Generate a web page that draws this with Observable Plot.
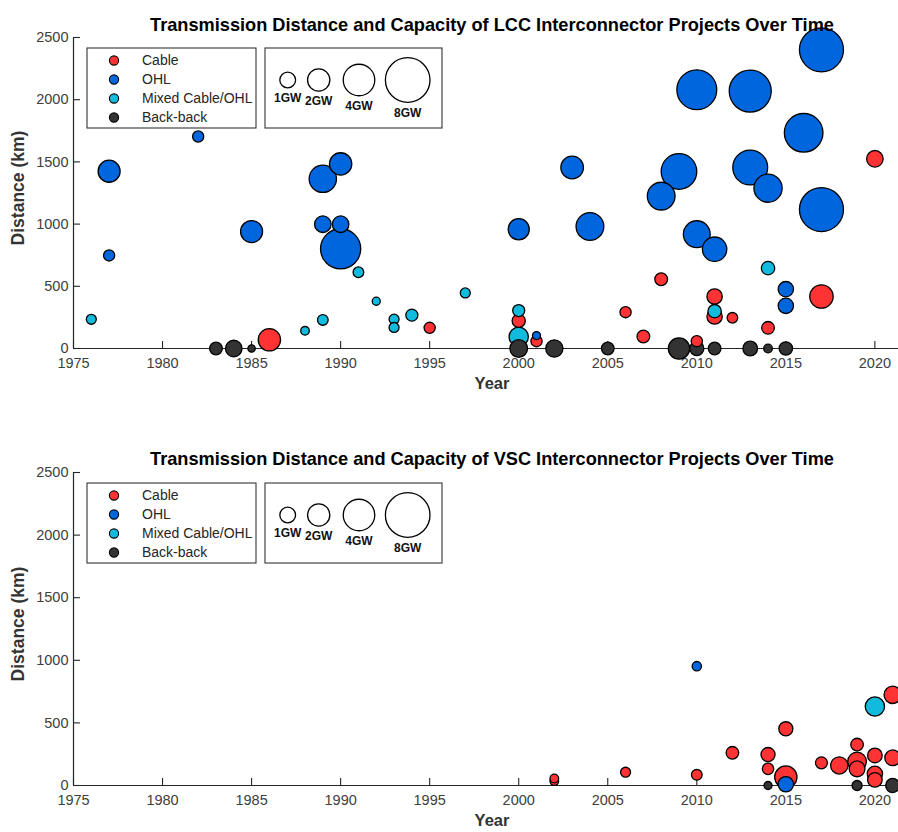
<!DOCTYPE html>
<html><head><meta charset="utf-8">
<script src="https://cdn.jsdelivr.net/npm/d3@7"></script>
<script src="https://cdn.jsdelivr.net/npm/@observablehq/plot@0.6"></script>
<style>
html,body{margin:0;padding:0;background:#fff;overflow:hidden;}
#wrap{position:relative;width:898px;height:832px;overflow:hidden;background:#fff;}
#wrap svg{max-width:none !important;}
.panel{position:absolute;left:0;}
</style></head>
<body><div id="wrap"><div id="p1" class="panel" style="top:0"></div><div id="p2" class="panel" style="top:436px"></div></div>
<script>
// ---- categories, colours, ticks ----
const typeCodes = ["C", "O", "M", "B"];
const typeNames = ["Cable", "OHL", "Mixed Cable/OHL", "Back-back"];
const typeColors = ["#ff3333", "#0066dd", "#11bbdd", "#333333"];
const yearTicks = [1975, 1980, 1985, 1990, 1995, 2000, 2005, 2010, 2015, 2020];
const distTicks = [0, 500, 1000, 1500, 2000, 2500];
const sizeLegendGW = [1, 2, 4, 8];
const sizeLegendLabels = ["1GW", "2GW", "4GW", "8GW"];
const sizeLegendX = [287.7, 318.7, 359, 407.7];

// ---- LCC projects (type, year, distance km, capacity GW) ----
const lccType = ["C","C","C","C","C","C","C","C","C","C","C","C","C","C",
  "O","O","O","O","O","O","O","O","O","O","O","O","O","O","O","O","O","O","O","O","O","O","O","O","O","O",
  "M","M","M","M","M","M","M","M","M","M","M","M","M",
  "B","B","B","B","B","B","B","B","B","B","B","B"];
const lccYear = [1986,1995,2000,2001,2006,2007,2008,2010,2011,2011,2012,2014,2017,2020,
  1977,1977,1982,1985,1989,1989,1990,1990,1990,2000,2001,2003,2004,2008,2009,2010,2010,2011,2013,2014,2013,2015,2015,2016,2017,2017,
  1976,1988,1989,1991,1992,1993,1993,1994,1997,2000,2000,2011,2014,
  1983,1984,1985,2000,2002,2005,2009,2010,2011,2013,2014,2015];
const lccDist = [70,166,223,59,292,96,557,59,418,257,247,166,418,1525,
  748,1425,1704,940,1364,999,1484,999,801,959,104,1455,981,1225,1423,2080,919,798,2069,1289,1455,477,343,1734,2401,1117,
  235,142,230,613,380,236,169,268,447,305,94,300,646,
  0,0,0,0,0,0,0,0,0,0,0,0];
const lccGW = [2.0,0.5,0.7,0.5,0.5,0.65,0.65,0.5,0.95,0.95,0.45,0.65,2.2,1.1,
  0.5,1.95,0.5,1.95,3.0,1.1,2.0,1.1,6.5,1.8,0.26,2.05,3.1,3.1,5.1,6.4,2.9,2.4,7.1,3.2,4.9,0.95,0.95,6.0,7.8,7.8,
  0.4,0.3,0.46,0.46,0.26,0.4,0.4,0.58,0.4,0.58,1.5,0.72,0.72,
  0.64,1.1,0.22,1.25,1.2,0.64,1.83,0.8,0.64,0.86,0.3,0.72];

// ---- VSC projects ----
const vscType = ["C","C","C","C","C","C","C","C","C","C","C","C","C","C","C","C","C","C","C",
  "O","O","M","B","B","B"];
const vscYear = [2002,2002,2006,2010,2012,2014,2014,2015,2015,2017,2018,2019,2019,2019,2020,2020,2020,2021,2021,
  2010,2015,2020,2014,2019,2021];
const vscDist = [35,56,106,85,261,247,133,453,67,181,160,327,133,192,240,45,93,724,221,
  953,10,631,0,0,0];
const vscGW = [0.3,0.3,0.4,0.46,0.64,0.8,0.52,0.8,2.0,0.58,1.2,0.64,1.0,1.4,0.86,0.86,0.95,1.2,1.0,
  0.35,0.95,1.5,0.26,0.4,0.8];

const rows = (t, y, d, g) => t.map((c, i) => ({type: typeNames[typeCodes.indexOf(c)], year: y[i], dist: d[i], gw: g[i]}));

const FONT = "'Liberation Sans', Arial, Helvetica, sans-serif";

function panel(el, title, data, H, mTop, mBottom, titleDy) {
  const W = 910, mL = 73, mR = 0;
  const fh = H - mTop - mBottom, fw = W - mL - mR;
  const rDomain = [0, 8], rRange = [0, 22.3];
  const svg = Plot.plot({
    width: W, height: H,
    marginLeft: mL, marginRight: mR, marginTop: mTop, marginBottom: mBottom,
    style: {fontFamily: FONT, fontSize: "14.5px", color: "#404040", background: "white", overflow: "visible"},
    x: {domain: [1975, 2022], axis: null},
    y: {domain: [0, 2500], axis: null},
    r: {type: "sqrt", domain: rDomain, range: rRange},
    color: {domain: typeNames, range: typeColors},
    marks: [
      Plot.axisX({ticks: yearTicks, tickSize: 0, tickPadding: 9, tickFormat: "d", label: null}),
      Plot.axisY({ticks: distTicks, tickSize: 0, tickPadding: 5, tickFormat: "d", label: null}),
      Plot.tickX(yearTicks, {x: d => d, insetTop: fh - 7, stroke: "#262626", strokeWidth: 1.1}),
      Plot.tickY(distTicks, {y: d => d, insetRight: fw - 7, stroke: "#262626", strokeWidth: 1.1}),
      Plot.ruleY([0], {stroke: "#262626", strokeWidth: 1.2}),
      Plot.ruleX([1975], {stroke: "#262626", strokeWidth: 1.2}),
      Plot.dot(data, {x: "year", y: "dist", r: "gw", fill: "type", stroke: "black", strokeWidth: 1.3}),
      Plot.text([title], {frameAnchor: "top", textAnchor: "middle", dy: titleDy, fontWeight: "bold", fontSize: 18.2, fill: "#000", fontFamily: FONT}),
      Plot.text(["Year"], {frameAnchor: "bottom", textAnchor: "middle", dy: 40, fontWeight: "bold", fontSize: 16.5, fill: "#333", fontFamily: FONT}),
      Plot.text(["Distance (km)"], {frameAnchor: "left", textAnchor: "middle", dx: -55, dy: -5, rotate: -90, fontWeight: "bold", fontSize: 17.5, letterSpacing: "0.6px", fill: "#333", fontFamily: FONT})
    ]
  });
  // legends
  const rs = d3.scaleSqrt().domain(rDomain).range(rRange);
  const g = d3.select(svg).append("g").attr("font-family", FONT);
  const bt = mTop + 11, bh = 80;
  g.append("rect").attr("x", 87).attr("y", bt).attr("width", 169).attr("height", bh)
    .attr("fill", "white").attr("stroke", "#333").attr("stroke-width", 1.1);
  typeNames.forEach((n, i) => {
    const cy = bt + 12.5 + 19 * i;
    g.append("circle").attr("cx", 114).attr("cy", cy).attr("r", 4.6)
      .attr("fill", typeColors[i]).attr("stroke", "black").attr("stroke-width", 1.1);
    g.append("text").attr("x", 142).attr("y", cy).attr("dy", "0.35em")
      .attr("text-anchor", "start")
      .attr("font-size", 14).attr("fill", "#262626").text(n);
  });
  g.append("rect").attr("x", 265).attr("y", bt).attr("width", 177).attr("height", bh)
    .attr("fill", "white").attr("stroke", "#333").attr("stroke-width", 1.1);
  sizeLegendGW.forEach((v, i) => {
    const cx = sizeLegendX[i], cy = bt + 32, r = rs(v);
    g.append("circle").attr("cx", cx).attr("cy", cy).attr("r", r)
      .attr("fill", "none").attr("stroke", "black").attr("stroke-width", 1.3);
    g.append("text").attr("x", cx).attr("y", cy + r + 10).attr("dy", "0.35em")
      .attr("text-anchor", "middle").attr("font-size", 12).attr("font-weight", "bold")
      .attr("fill", "#111").text(sizeLegendLabels[i]);
  });
  document.getElementById(el).appendChild(svg);
}

panel("p1", "Transmission Distance and Capacity of LCC Interconnector Projects Over Time",
  rows(lccType, lccYear, lccDist, lccGW), 436, 37, 88, -19);
panel("p2", "Transmission Distance and Capacity of VSC Interconnector Projects Over Time",
  rows(vscType, vscYear, vscDist, vscGW), 396, 36, 47, -20);
</script>
</body></html>
